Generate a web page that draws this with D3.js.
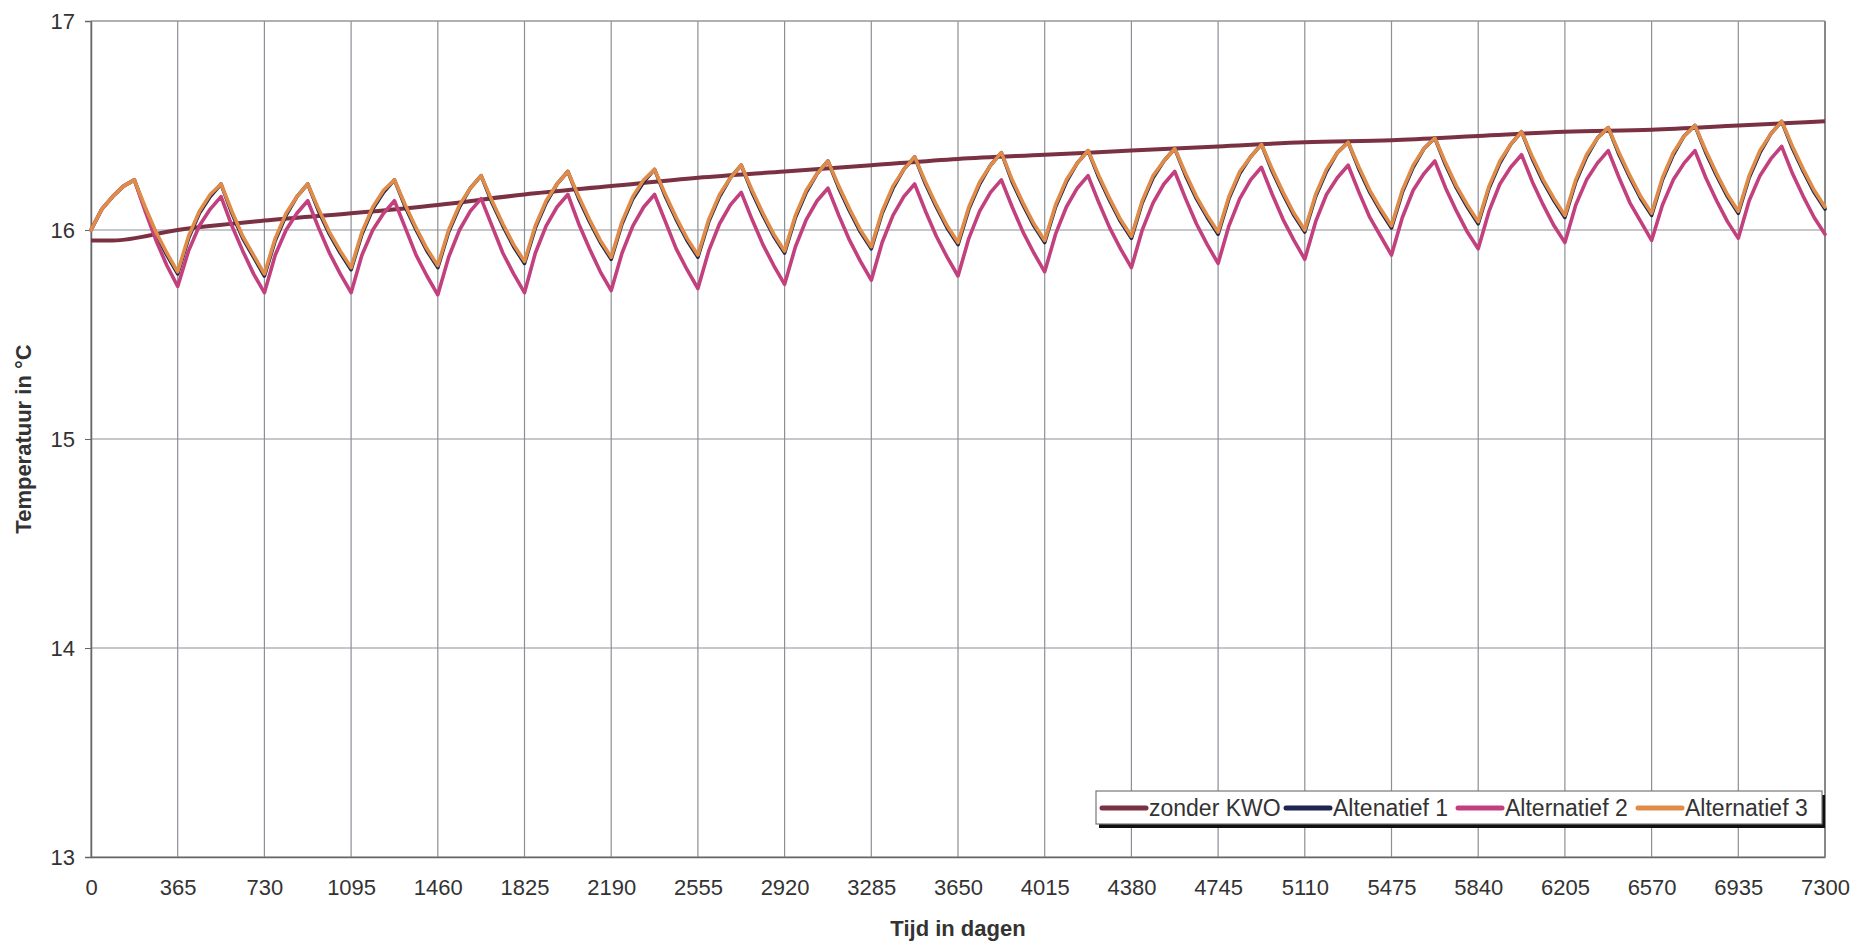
<!DOCTYPE html>
<html>
<head>
<meta charset="utf-8">
<script src="https://cdn.jsdelivr.net/npm/d3@7"></script>
<style>
  html, body { margin: 0; padding: 0; background: #fff; }
  svg { display: block; }
  text { font-family: "Liberation Sans", Arial, sans-serif; fill: #333; }
</style>
</head>
<body>
<svg id="chart" width="1871" height="945"></svg>
<script>
// ---------- DATA ----------
const xTicks = [0,365,730,1095,1460,1825,2190,2555,2920,3285,3650,4015,4380,4745,5110,5475,5840,6205,6570,6935,7300];
const yTicks = [13,14,15,16,17];
const seriesNames = ["zonder KWO", "Altenatief 1", "Alternatief 2", "Alternatief 3"];

// zonder KWO: smooth trend
const zonderDays   = [0, 92, 365, 730, 1095, 1460, 1825, 2190, 2555, 2920, 3285, 3650, 4015, 4380, 4745, 5110, 5475, 5840, 6205, 6570, 6935, 7300];
const zonderValues = [15.95, 15.95, 16.00, 16.045, 16.08, 16.12, 16.17, 16.21, 16.25, 16.28, 16.31, 16.34, 16.36, 16.38, 16.40, 16.42, 16.43, 16.45, 16.47, 16.48, 16.50, 16.52];

// Alternatives are sampled every 1/8 year (365/8 days), 0 .. 7300
const alt1Values = [
 16.00,16.10,16.16,16.21,16.24,16.10,15.98,15.88,
 15.79,15.96,16.08,16.16,16.22,16.08,15.96,15.87,
 15.78,15.95,16.07,16.16,16.22,16.09,15.98,15.89,
 15.81,15.98,16.10,16.18,16.24,16.11,16.00,15.90,
 15.82,15.99,16.11,16.20,16.26,16.13,16.02,15.92,
 15.84,16.01,16.13,16.22,16.28,16.15,16.04,15.94,
 15.86,16.03,16.15,16.23,16.29,16.16,16.05,15.95,
 15.87,16.04,16.16,16.25,16.31,16.18,16.07,15.97,
 15.89,16.06,16.18,16.27,16.33,16.20,16.09,15.99,
 15.91,16.08,16.20,16.29,16.35,16.22,16.11,16.01,
 15.93,16.10,16.22,16.31,16.37,16.23,16.12,16.02,
 15.94,16.11,16.23,16.32,16.38,16.25,16.14,16.04,
 15.96,16.13,16.25,16.33,16.39,16.26,16.15,16.06,
 15.98,16.15,16.27,16.35,16.41,16.28,16.17,16.07,
 15.99,16.16,16.28,16.37,16.42,16.29,16.18,16.09,
 16.01,16.18,16.30,16.39,16.44,16.31,16.20,16.11,
 16.03,16.20,16.32,16.41,16.47,16.34,16.23,16.14,
 16.06,16.23,16.35,16.44,16.49,16.36,16.25,16.15,
 16.07,16.24,16.36,16.45,16.50,16.37,16.26,16.16,
 16.08,16.25,16.37,16.46,16.52,16.39,16.28,16.18,
 16.10
];
const alt2Values = [
 16.00,16.10,16.16,16.21,16.24,16.09,15.95,15.83,
 15.73,15.90,16.02,16.10,16.16,16.02,15.90,15.79,
 15.70,15.88,16.00,16.08,16.14,16.01,15.89,15.79,
 15.70,15.88,16.00,16.08,16.14,16.01,15.88,15.78,
 15.69,15.87,16.00,16.09,16.15,16.02,15.89,15.79,
 15.70,15.89,16.02,16.11,16.17,16.03,15.91,15.80,
 15.71,15.89,16.02,16.11,16.17,16.04,15.91,15.81,
 15.72,15.90,16.03,16.12,16.18,16.05,15.93,15.83,
 15.74,15.92,16.05,16.14,16.20,16.07,15.95,15.85,
 15.76,15.94,16.07,16.16,16.22,16.09,15.97,15.87,
 15.78,15.96,16.09,16.18,16.24,16.11,15.99,15.89,
 15.80,15.98,16.11,16.20,16.26,16.13,16.01,15.91,
 15.82,16.00,16.13,16.22,16.28,16.15,16.03,15.93,
 15.84,16.02,16.15,16.24,16.30,16.17,16.05,15.95,
 15.86,16.04,16.17,16.25,16.31,16.18,16.06,15.97,
 15.88,16.06,16.19,16.27,16.33,16.20,16.09,15.99,
 15.91,16.09,16.22,16.30,16.36,16.23,16.12,16.02,
 15.94,16.12,16.24,16.32,16.38,16.25,16.13,16.04,
 15.95,16.12,16.24,16.32,16.38,16.25,16.14,16.04,
 15.96,16.14,16.26,16.34,16.40,16.27,16.16,16.06,
 15.98
];
const alt3Values = [
 16.00,16.10,16.16,16.21,16.24,16.11,15.99,15.89,
 15.80,15.97,16.09,16.17,16.22,16.09,15.97,15.88,
 15.79,15.96,16.08,16.16,16.22,16.10,15.99,15.90,
 15.82,15.99,16.11,16.19,16.24,16.12,16.01,15.91,
 15.83,16.00,16.12,16.20,16.26,16.14,16.03,15.93,
 15.85,16.02,16.14,16.22,16.28,16.16,16.05,15.95,
 15.87,16.04,16.16,16.24,16.29,16.17,16.06,15.96,
 15.88,16.05,16.17,16.25,16.31,16.19,16.08,15.98,
 15.90,16.07,16.19,16.27,16.33,16.21,16.10,16.00,
 15.92,16.09,16.21,16.29,16.35,16.23,16.12,16.02,
 15.94,16.11,16.23,16.31,16.37,16.24,16.13,16.03,
 15.95,16.12,16.24,16.32,16.38,16.26,16.15,16.05,
 15.97,16.14,16.26,16.33,16.39,16.27,16.16,16.07,
 15.99,16.16,16.28,16.35,16.41,16.29,16.18,16.08,
 16.00,16.17,16.29,16.37,16.42,16.30,16.19,16.10,
 16.02,16.19,16.31,16.39,16.44,16.32,16.21,16.12,
 16.04,16.21,16.33,16.41,16.47,16.35,16.24,16.15,
 16.07,16.24,16.36,16.44,16.49,16.37,16.26,16.16,
 16.08,16.25,16.37,16.45,16.50,16.38,16.27,16.17,
 16.09,16.26,16.38,16.46,16.52,16.40,16.29,16.19,
 16.11
];
const altDays = alt3Values.map((_, i) => i * 365 / 8);

// ---------- LAYOUT ----------
const colors = ["#7a3142", "#1d2550", "#c2407e", "#e08c48"];
const svg = d3.select("#chart");
const M = { left: 91, top: 21, right: 1825, bottom: 857 };

const x = d3.scaleLinear().domain([0, 7300]).range([M.left, M.right]);
const y = d3.scaleLinear().domain([13, 17]).range([M.bottom, M.top]);

// gridlines
const grid = svg.append("g");
grid.selectAll("line.v").data(xTicks).enter().append("line")
  .attr("x1", d => x(d)).attr("x2", d => x(d))
  .attr("y1", M.top).attr("y2", M.bottom)
  .attr("stroke", "#8c8f96").attr("stroke-width", 1.2);
grid.selectAll("line.h").data(yTicks).enter().append("line")
  .attr("x1", M.left).attr("x2", M.right)
  .attr("y1", d => y(d)).attr("y2", d => y(d))
  .attr("stroke", "#8c8f96").attr("stroke-width", 1.2);

// axes
const yAxis = d3.axisLeft(y).tickValues(yTicks).tickSize(6).tickPadding(10).tickFormat(d3.format("d"));
const gy = svg.append("g").attr("transform", `translate(${M.left},0)`).call(yAxis);
gy.select(".domain").attr("stroke", "#666").attr("stroke-width", 1.5);
gy.selectAll(".tick line").attr("stroke", "#666");
gy.selectAll("text").style("font-size", "22px").attr("fill", "#333");

const xAxis = d3.axisBottom(x).tickValues(xTicks).tickSize(0).tickPadding(22).tickFormat(d3.format("d"));
const gx = svg.append("g").attr("transform", `translate(0,${M.bottom})`).call(xAxis);
gx.select(".domain").attr("stroke", "#666").attr("stroke-width", 1.5);
gx.selectAll("text").style("font-size", "22px").attr("fill", "#333");

// right/top border
svg.append("line").attr("x1", M.right).attr("x2", M.right).attr("y1", M.top).attr("y2", M.bottom)
  .attr("stroke", "#777").attr("stroke-width", 1.5);
svg.append("line").attr("x1", M.left).attr("x2", M.right).attr("y1", M.top).attr("y2", M.top)
  .attr("stroke", "#999").attr("stroke-width", 1.2);

// series
const lineZ = d3.line().x((d, i) => x(zonderDays[i])).y(d => y(d)).curve(d3.curveMonotoneX);
const lineA = d3.line().x((d, i) => x(altDays[i])).y(d => y(d));

svg.append("path").datum(zonderValues).attr("d", lineZ)
  .attr("fill", "none").attr("stroke", colors[0]).attr("stroke-width", 4).attr("stroke-linejoin", "round");
[alt1Values, alt2Values, alt3Values].forEach((vals, i) => {
  svg.append("path").datum(vals).attr("d", lineA)
    .attr("fill", "none").attr("stroke", colors[i + 1]).attr("stroke-width", 3.6)
    .attr("stroke-linejoin", "round").attr("stroke-linecap", "round");
});

// axis titles
svg.append("text").attr("x", x(3650)).attr("y", 936).attr("text-anchor", "middle")
  .style("font-size", "22px").style("font-weight", "bold").text("Tijd in dagen");
svg.append("text").attr("transform", `translate(31,${(M.top + M.bottom) / 2}) rotate(-90)`)
  .attr("text-anchor", "middle").style("font-size", "22px").style("font-weight", "bold")
  .text("Temperatuur in °C");

// legend
const lg = svg.append("g");
lg.append("rect").attr("x", 1099).attr("y", 795).attr("width", 726).attr("height", 33).attr("fill", "#111");
lg.append("rect").attr("x", 1096).attr("y", 791).attr("width", 726).attr("height", 33)
  .attr("fill", "#fff").attr("stroke", "#777").attr("stroke-width", 1.2);
const legX = [1102, 1286, 1458, 1638];
seriesNames.forEach((name, i) => {
  lg.append("line").attr("x1", legX[i]).attr("x2", legX[i] + 44).attr("y1", 808).attr("y2", 808)
    .attr("stroke", colors[i]).attr("stroke-width", 5).attr("stroke-linecap", "round");
  lg.append("text").attr("x", legX[i] + 47).attr("y", 816).style("font-size", "23px").text(name);
});
</script>
</body>
</html>
